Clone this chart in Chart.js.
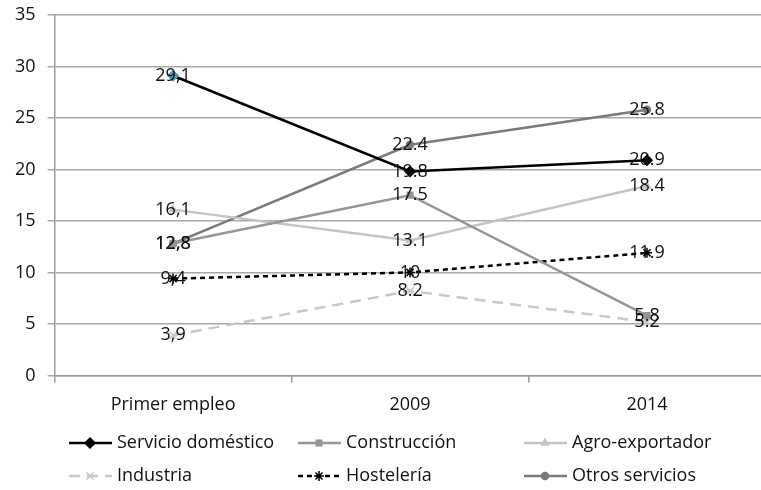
<!DOCTYPE html>
<html lang="es">
<head>
    <meta charset="UTF-8">
    <title>Sectores de empleo</title>
    <style>
        html, body { margin: 0; padding: 0; background: #fff; overflow: hidden; }
        .wrap { width: 772px; height: 490px; }
    </style>
    <script src="https://cdn.jsdelivr.net/npm/chart.js"></script>
</head>
<body>
    <div class="wrap">
        <canvas id="chart" width="772" height="490"></canvas>
    </div>

    <script>
        // Data
        const categories = ['Primer empleo', '2009', '2014'];
        const yTicks = [0, 5, 10, 15, 20, 25, 30, 35];

        const servicioDomestico = [29.1, 19.8, 20.9];
        const construccion = [12.8, 17.5, 5.8];
        const agroExportador = [16.1, 13.1, 18.4];
        const industria = [3.9, 8.2, 5.2];
        const hosteleria = [9.4, 10, 11.9];
        const otrosServicios = [12.8, 22.4, 25.8];

        const seriesNames = ['Servicio doméstico', 'Construcción', 'Agro-exportador',
                             'Industria', 'Hostelería', 'Otros servicios'];

        const FONT = '"Open Sans", "Noto Sans", sans-serif';
        const FSIZE = 18;

        function makeSet(label, data, color, style, radius, dash, width) {
            return {
                label: label,
                data: data,
                borderColor: color,
                backgroundColor: color,
                pointBackgroundColor: color,
                pointBorderColor: color,
                pointStyle: style,
                pointRadius: radius,
                pointBorderWidth: 1.5,
                borderWidth: width || 2.5,
                borderDash: dash || [],
                tension: 0,
                fill: false
            };
        }

        const datasets = [
            makeSet(seriesNames[0], servicioDomestico, '#000000', 'rectRot', 5),
            makeSet(seriesNames[1], construccion, '#959595', 'rect', 4),
            makeSet(seriesNames[2], agroExportador, '#c3c3c3', 'triangle', 4),
            makeSet(seriesNames[3], industria, '#c8c8c8', 'crossRot', 5, [11, 7]),
            makeSet(seriesNames[4], hosteleria, '#000000', 'star', 5, [5, 4]),
            makeSet(seriesNames[5], otrosServicios, '#7a7a7a', 'circle', 3.5)
        ];
        // first marker of the black series shows up tinted in the original
        datasets[0].pointBackgroundColor = ['#4f97b8', '#000', '#000'];
        datasets[0].pointBorderColor = ['#4f97b8', '#000', '#000'];

        // value labels centred on each point
        const valueLabels = {
            id: 'valueLabels',
            afterDatasetsDraw(chart) {
                const ctx = chart.ctx;
                ctx.save();
                ctx.font = FSIZE + 'px ' + FONT;
                ctx.fillStyle = '#111';
                ctx.textAlign = 'center';
                ctx.textBaseline = 'middle';
                chart.data.datasets.forEach((ds, i) => {
                    chart.getDatasetMeta(i).data.forEach((pt, j) => {
                        let txt = String(ds.data[j]);
                        if (j === 0) txt = txt.replace('.', ',');
                        ctx.fillText(txt, pt.x, pt.y);
                    });
                });
                ctx.restore();
            }
        };

        // legend in three columns, two rows
        const gridLegend = {
            id: 'gridLegend',
            afterDraw(chart) {
                const ctx = chart.ctx;
                const colX = [69, 298, 524];
                const rowY = [443, 476];
                ctx.save();
                chart.data.datasets.forEach((ds, i) => {
                    const x0 = colX[i % 3];
                    const y = rowY[Math.floor(i / 3)];
                    ctx.strokeStyle = ds.borderColor;
                    ctx.lineWidth = ds.borderWidth;
                    ctx.setLineDash(ds.borderDash);
                    ctx.beginPath();
                    ctx.moveTo(x0, y);
                    ctx.lineTo(x0 + 43, y);
                    ctx.stroke();
                    ctx.setLineDash([]);
                    ctx.fillStyle = ds.borderColor;
                    ctx.lineWidth = 1.5;
                    Chart.helpers.drawPoint(ctx, {
                        pointStyle: ds.pointStyle,
                        radius: ds.pointRadius,
                        rotation: 0,
                        borderWidth: 1.5
                    }, x0 + 21, y);
                    ctx.fillStyle = '#111';
                    ctx.font = FSIZE + 'px ' + FONT;
                    ctx.textAlign = 'left';
                    ctx.textBaseline = 'middle';
                    ctx.fillText(ds.label, x0 + 48, y);
                });
                ctx.restore();
            }
        };

        new Chart(document.getElementById('chart').getContext('2d'), {
            type: 'line',
            data: { labels: categories, datasets: datasets },
            options: {
                responsive: false,
                animation: false,
                layout: { padding: { left: 3, right: 0, top: 15, bottom: 62 } },
                plugins: {
                    legend: { display: false },
                    tooltip: { enabled: false }
                },
                scales: {
                    x: {
                        offset: true,
                        grid: {
                            offset: true,
                            drawOnChartArea: false,
                            drawTicks: true,
                            tickLength: 7,
                            color: '#9a9a9a',
                            lineWidth: 1.5
                        },
                        border: { color: '#9a9a9a', width: 1.5 },
                        ticks: { color: '#111', padding: 12, font: { size: FSIZE, family: FONT } }
                    },
                    y: {
                        min: 0,
                        max: 35,
                        afterBuildTicks(scale) {
                            scale.ticks = yTicks.map(v => ({ value: v }));
                        },
                        afterFit(scale) {
                            scale.paddingTop = 0;
                        },
                        grid: {
                            color: '#a8a8a8',
                            lineWidth: 1.5,
                            tickLength: 7
                        },
                        border: { color: '#9a9a9a', width: 1.5 },
                        ticks: { color: '#111', padding: 12, font: { size: FSIZE, family: FONT } }
                    }
                }
            },
            plugins: [valueLabels, gridLegend]
        });
    </script>
</body>
</html>
